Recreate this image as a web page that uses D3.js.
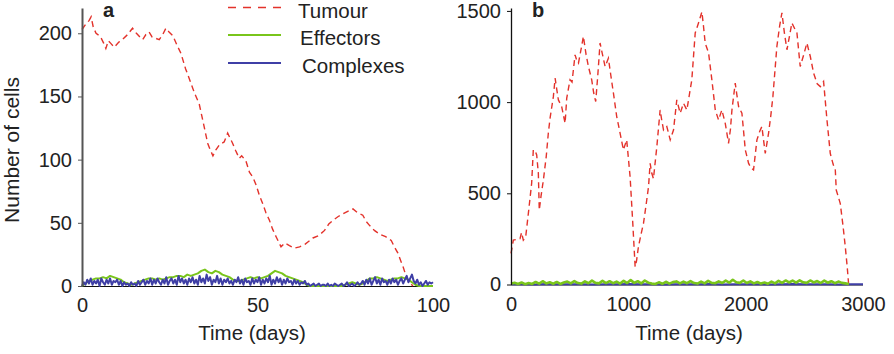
<!DOCTYPE html>
<html>
<head>
<meta charset="utf-8">
<script src="https://cdn.jsdelivr.net/npm/d3@7"></script>
<style>
  body { margin: 0; background: #fff; }
  text { font-family: "Liberation Sans", Arial, sans-serif; fill: #222; }
</style>
</head>
<body>
<div id="chart"></div>
<script>
// panel a: tumour (time, cells)
var tumourA = [[0,203],[1,207],[2,210],[2.6,213],[3.2,205],[4,200],[5,198],[5.5,196],[6.2,192],[6.8,188],[7.5,194],[8.2,192],[9.2,189],[10.5,193],[11.5,195],[13,199],[14.4,204],[15.5,200],[16.5,197],[17.3,195],[18.2,199],[19.1,201],[20,197],[21,196],[22,195],[23,199],[23.9,204],[24.8,201],[25.9,198],[27,191],[28.2,184],[29.5,172],[31.1,160],[32,153],[33.4,144],[34.5,130],[35.8,113],[36.5,108],[37.3,103],[38.2,108],[39.2,112],[40.5,114],[41.5,121],[42.2,117],[42.9,113],[43.8,107],[44.8,101],[45.5,103],[46.7,99],[47.7,90],[48.7,86],[49.6,80],[50.5,72],[51.5,65],[52.4,58],[53.4,52],[54.3,45],[55.3,39],[56.7,31],[57.8,34],[59.1,32],[60.5,30],[62,31],[63.5,33],[65.8,38],[67.5,40],[69.1,44],[70.3,49],[71.5,52],[73,55],[74.3,57],[75.7,59],[77.2,61],[78.5,58],[80,56],[81,51],[81.9,48],[83.3,44],[84.8,41],[86.5,39],[88.1,36],[89,31],[90,26],[90.8,20],[91.5,15],[92.2,9],[92.9,4],[94.3,0]];

// panel a: effectors, one value per day (0..100)
var effectorsA = [0,2,4,5,6,6,7,6,8,7, 6,5,3,2,1,2,3,4,5,6, 6,5,6,5,6,7,7,8,8,7, 9,8,9,10,12,13,11,10,12,11,
  9,8,7,5,4,4,5,6,7,6, 7,6,7,8,10,12,11,10,8,7, 6,5,4,3,1,0,0,0,0,0, 0,0,0,0,0,1,2,3,2,1,
  2,4,6,6,7,6,5,4,5,6, 6,7,6,5,3,1,0,0,0,0, 0];
var stepEffA = 1;

// panel a: complexes, one value per half day (0..100)
var complexesA = [0,3,1,5,2,6,1,4,2,5,0,6,3,1,5,2,6,1,4,3,
  5,1,4,0,3,1,2,0,3,1,2,0,4,1,3,5,1,4,2,6,
  1,5,2,6,3,1,5,2,7,1,4,6,2,5,1,8,3,6,2,5,
  1,6,3,7,2,5,1,8,3,6,2,9,4,7,1,5,3,8,2,6,
  1,5,3,6,2,4,1,5,3,7,2,5,1,6,3,4,1,6,2,5,
  3,7,1,5,2,6,3,8,1,5,2,7,3,6,1,5,2,6,3,4,
  1,5,2,4,1,3,2,4,1,2,0,1,2,0,1,2,0,1,1,0,
  2,0,1,0,2,1,0,1,2,0,1,3,0,1,2,0,1,3,1,2,
  4,1,5,2,6,1,4,7,2,5,1,6,3,4,1,5,2,6,3,5,
  1,4,6,2,5,8,3,6,9,4,2,5,1,3,0,2,4,1,3,2,
  3];
var stepCompA = 0.5;

// panel b: tumour (time, cells)
var tumourB = [[0,170],[20,243],[50,248],[77,251],[90,285],[105,243],[125,260],[148,390],[176,555],[190,738],[205,735],[219,710],[233,610],[241,408],[255,480],[276,573],[300,700],[318,829],[333,912],[361,1030],[376,1131],[390,1070],[404,1012],[432,975],[461,884],[475,1022],[503,1122],[520,1110],[546,1259],[560,1230],[575,1214],[600,1300],[617,1360],[640,1260],[660,1195],[688,1122],[705,1050],[722,1003],[740,1150],[759,1324],[780,1260],[802,1195],[830,1241],[850,1150],[873,1049],[901,921],[930,829],[958,738],[986,793],[1015,591],[1038,335],[1058,97],[1070,130],[1086,207],[1110,280],[1129,335],[1150,430],[1172,536],[1186,664],[1200,610],[1214,580],[1243,756],[1271,957],[1285,900],[1300,847],[1328,866],[1357,793],[1385,847],[1413,1012],[1442,939],[1470,994],[1499,957],[1520,1040],[1541,1122],[1570,1379],[1598,1434],[1627,1495],[1640,1420],[1655,1324],[1684,1269],[1712,1122],[1741,957],[1769,902],[1797,957],[1826,884],[1854,774],[1870,850],[1883,957],[1911,1104],[1925,1040],[1940,975],[1968,939],[1997,738],[2025,664],[2045,640],[2067,628],[2096,793],[2120,840],[2138,866],[2167,719],[2195,829],[2215,930],[2232,1030],[2266,1305],[2290,1420],[2309,1489],[2330,1380],[2352,1287],[2370,1350],[2394,1434],[2420,1400],[2437,1379],[2465,1195],[2495,1260],[2522,1324],[2551,1250],[2579,1159],[2610,1100],[2636,1085],[2664,1113],[2693,902],[2721,719],[2745,660],[2764,628],[2772,518],[2806,445],[2830,320],[2849,207],[2865,100],[2877,5],[2890,0]];

// panel b: effectors every 30 days
var effectorsB = [4,9,3,11,2,8,3,14,5,18, 6,12,4,14,3,11,16,6,19,8, 5,17,7,21,9,6,20,8,18,7,
  16,5,20,8,24,9,18,6,22,10, 5,3,12,4,15,5,13,17,6,16, 7,19,8,5,16,6,20,9,7,17,
  8,21,10,26,12,9,22,8,17,6, 14,5,11,4,16,6,20,9,22,11, 21,10,23,12,9,22,11,19,8,21,
  10,18,7,16,9,6,3];
var stepEffB = 30;

// panel b: complexes every 100 days
var complexesB = [1,2,0,3,1,2,1,0,2,1,3,1,2,0,1,2,1,3,0,2,1,2,0,1,3,1,2,1,0,1,1];
var stepCompB = 100;

var ticksYA = [0, 50, 100, 150, 200];
var ticksXA = [0, 50, 100];
var ticksYB = [0, 500, 1000, 1500];
var ticksXB = [0, 1000, 2000, 3000];

var seriesNames = ["Tumour", "Effectors", "Complexes"];
var red = "#e3322b", green = "#79c51b", blue = "#3f3fa6";

var width = 894, height = 354;
var svg = d3.select("#chart").append("svg")
  .attr("width", width).attr("height", height);

function indexed(vals, step){
  return vals.map(function(v, i){ return [i * step, v]; });
}

function panel(opt){
  var x = d3.scaleLinear().domain(opt.xDomain).range([opt.left, opt.right]);
  var y = d3.scaleLinear().domain(opt.yDomain).range([opt.bottom, opt.top]);
  var line = d3.line().x(function(d){ return x(d[0]); }).y(function(d){ return y(d[1]); });

  var g = svg.append("g");

  // baseline
  g.append("line").attr("x1", opt.left).attr("x2", opt.right)
    .attr("y1", y(0) + 0.5).attr("y2", y(0) + 0.5)
    .attr("stroke", "#111").attr("stroke-width", 1.2);

  g.append("path").datum(opt.tumour).attr("d", line)
    .attr("fill", "none").attr("stroke", red).attr("stroke-width", 1.4)
    .attr("stroke-dasharray", "6,4");

  opt.order.forEach(function(s){
    g.append("path").datum(s.data).attr("d", line)
      .attr("fill", "none").attr("stroke", s.color).attr("stroke-width", s.w)
      .attr("stroke-linejoin", "round");
  });

  var ya = g.append("g").attr("transform", "translate(" + opt.left + ",0)")
    .call(d3.axisLeft(y).tickValues(opt.yTicks).tickFormat(d3.format("d"))
      .tickSize(4).tickSizeOuter(0).tickPadding(6));
  ya.select(".domain").attr("stroke", opt.axisColor).attr("stroke-width", opt.axisW);
  ya.selectAll("line").attr("stroke", opt.axisColor);
  ya.selectAll("text").style("font-size", "20px").attr("fill", "#222").attr("font-family", null);

  var xa = g.append("g").attr("transform", "translate(0," + opt.bottom + ")")
    .call(d3.axisBottom(x).tickValues(opt.xTicks).tickFormat(d3.format("d"))
      .tickSize(0).tickPadding(12));
  xa.select(".domain").remove();
  xa.selectAll("text").style("font-size", "20px").attr("fill", "#222").attr("font-family", null);

  g.append("text").attr("x", opt.xLabelX).attr("y", 340)
    .attr("text-anchor", "middle").style("font-size", "20.5px").text("Time (days)");

  g.append("text").attr("x", opt.letterX).attr("y", 17)
    .style("font-size", "20px").style("font-weight", "bold").text(opt.letter);
}

panel({
  left: 82, right: 433, top: 8, bottom: 286,
  xDomain: [0, 100], yDomain: [0, 220],
  xTicks: ticksXA, yTicks: ticksYA,
  tumour: tumourA,
  order: [
    { data: indexed(effectorsA, stepEffA), color: green, w: 2 },
    { data: indexed(complexesA, stepCompA), color: blue, w: 2 }
  ],
  axisColor: "#555", axisW: 2,
  xLabelX: 252, letterX: 103, letter: "a"
});

panel({
  left: 511, right: 863, top: 8, bottom: 284.5,
  xDomain: [0, 3000], yDomain: [0, 1516],
  xTicks: ticksXB, yTicks: ticksYB,
  tumour: tumourB,
  order: [
    { data: indexed(complexesB, stepCompB), color: blue, w: 2 },
    { data: indexed(effectorsB, stepEffB), color: green, w: 2.6 }
  ],
  axisColor: "#111", axisW: 1.3,
  xLabelX: 689, letterX: 532, letter: "b"
});

// legend
var legend = svg.append("g");
var legY = [7.5, 35, 63], legTextX = [298, 300, 302], legColors = [red, green, blue];
seriesNames.forEach(function(name, i){
  var l = legend.append("line").attr("x1", 228).attr("x2", 281)
    .attr("y1", legY[i]).attr("y2", legY[i])
    .attr("stroke", legColors[i]).attr("stroke-width", i == 0 ? 1.5 : 2);
  if (i == 0) l.attr("stroke-dasharray", "8,7");
  legend.append("text").attr("x", legTextX[i]).attr("y", legY[i] + 10)
    .style("font-size", "20.5px").text(name);
});

svg.append("text")
  .attr("transform", "translate(19,150) rotate(-90)")
  .attr("text-anchor", "middle").style("font-size", "21px")
  .text("Number of cells");
</script>
</body>
</html>
